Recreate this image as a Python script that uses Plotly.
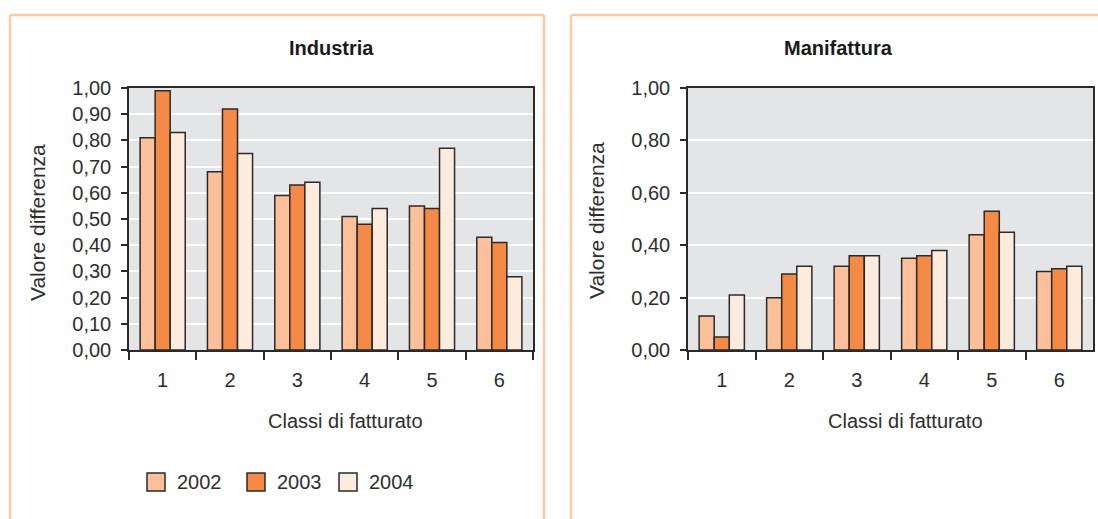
import plotly.graph_objects as go

# Data
classi = ["1", "2", "3", "4", "5", "6"]
anni = ["2002", "2003", "2004"]
colori = ["#FBBF99", "#F58A47", "#FDEBDD"]

industria_2002 = [0.81, 0.68, 0.59, 0.51, 0.55, 0.43]
industria_2003 = [0.99, 0.92, 0.63, 0.48, 0.54, 0.41]
industria_2004 = [0.83, 0.75, 0.64, 0.54, 0.77, 0.28]

manifattura_2002 = [0.13, 0.20, 0.32, 0.35, 0.44, 0.30]
manifattura_2003 = [0.05, 0.29, 0.36, 0.36, 0.53, 0.31]
manifattura_2004 = [0.21, 0.32, 0.36, 0.38, 0.45, 0.32]

W, H = 1098, 532
FONT = "Liberation Sans, Arial, Helvetica, sans-serif"
TXT = "#2e2e2e"
DARK = "#2a2a2a"
PANEL = "#FDC9A8"

# layout positions are given in target pixels; vertical ones are mapped
# through the page's vertical offset/scale
Y_OFF, Y_SCALE = 8.0, 0.9585


def px(x):
    return min(1.0, max(0.0, x / W))


def py(y):
    yf = (y - Y_OFF) / Y_SCALE
    return min(1.0, max(0.0, 1 - yf / H))


fig = go.Figure()

serie = [
    ("x", "y", [industria_2002, industria_2003, industria_2004]),
    ("x2", "y2", [manifattura_2002, manifattura_2003, manifattura_2004]),
]
for xa, ya, valori in serie:
    for anno, col, v in zip(anni, colori, valori):
        fig.add_trace(go.Bar(
            x=classi, y=v, name=anno, xaxis=xa, yaxis=ya,
            marker=dict(color=col, line=dict(color=DARK, width=1.5)),
            showlegend=False,
        ))

axis_common = dict(
    showline=True, linecolor=DARK, linewidth=1.5, mirror=True,
    ticks="outside", tickcolor=DARK, tickwidth=1.5,
    tickfont=dict(family=FONT, size=20, color=TXT),
    fixedrange=True,
)

# plot areas: left 129-533, right 688-1093, y 85-347
fig.update_layout(
    width=W, height=H,
    margin=dict(l=0, r=0, t=0, b=0),
    paper_bgcolor="white",
    plot_bgcolor="#E4E5E7",
    separators=",.",
    barmode="group",
    bargap=0.33,
    bargroupgap=0,
    showlegend=False,
    xaxis=dict(domain=[px(129), px(533)], anchor="y", type="category",
               tickson="boundaries", ticklen=8, showgrid=False,
               ticklabelstandoff=11, **axis_common),
    yaxis=dict(domain=[py(347), py(85)], anchor="x", range=[0, 1.0],
               dtick=0.1, tickformat=".2f", ticklen=6,
               showgrid=True, gridcolor="white", gridwidth=2,
               zeroline=False, ticklabelstandoff=6, **axis_common),
    xaxis2=dict(domain=[px(688), px(1093)], anchor="y2", type="category",
                tickson="boundaries", ticklen=8, showgrid=False,
                ticklabelstandoff=11, **axis_common),
    yaxis2=dict(domain=[py(347), py(85)], anchor="x2", range=[0, 1.0],
                dtick=0.2, tickformat=".2f", ticklen=6,
                showgrid=True, gridcolor="white", gridwidth=2,
                zeroline=False, ticklabelstandoff=6, **axis_common),
)


def line(x0, y0, x1, y1):
    return dict(type="line", xref="paper", yref="paper",
                x0=px(x0), x1=px(x1), y0=py(y0), y1=py(y1),
                line=dict(color=PANEL, width=2.5), layer="below")


# panel frames (open at the bottom / right edge)
shapes = [
    line(10, 12, 544, 12), line(10, 12, 10, 600), line(544, 12, 544, 600),
    line(571, 12, 1100, 12), line(571, 12, 571, 600),
]

annotations = []


def label(text, x, y, size=20, bold=False, angle=0):
    annotations.append(dict(
        text=f"<b>{text}</b>" if bold else text,
        xref="paper", yref="paper", x=px(x), y=py(y),
        xanchor="center", yanchor="middle", showarrow=False,
        textangle=angle,
        font=dict(family=FONT, size=size, color="#1a1a1a" if bold else TXT),
    ))


label("Industria", 331, 45, bold=True)
label("Manifattura", 838, 45, bold=True)
label("Classi di fatturato", 345, 418)
label("Classi di fatturato", 905, 418)
label("Valore differenza", 37, 220, size=21, angle=-90)
label("Valore differenza", 596, 218, size=21, angle=-90)

# legend
leg_x = [147, 247, 339]
for anno, col, x0 in zip(anni, colori, leg_x):
    shapes.append(dict(type="rect", xref="paper", yref="paper",
                       x0=px(x0), x1=px(x0 + 18), y0=py(488), y1=py(470),
                       fillcolor=col, line=dict(color=DARK, width=1.5)))
    annotations.append(dict(
        text=anno, xref="paper", yref="paper", x=px(x0 + 28), y=py(479),
        xanchor="left", yanchor="middle", showarrow=False,
        font=dict(family=FONT, size=20, color=TXT),
    ))

fig.update_layout(shapes=shapes, annotations=annotations)

fig.write_html("out.html")
